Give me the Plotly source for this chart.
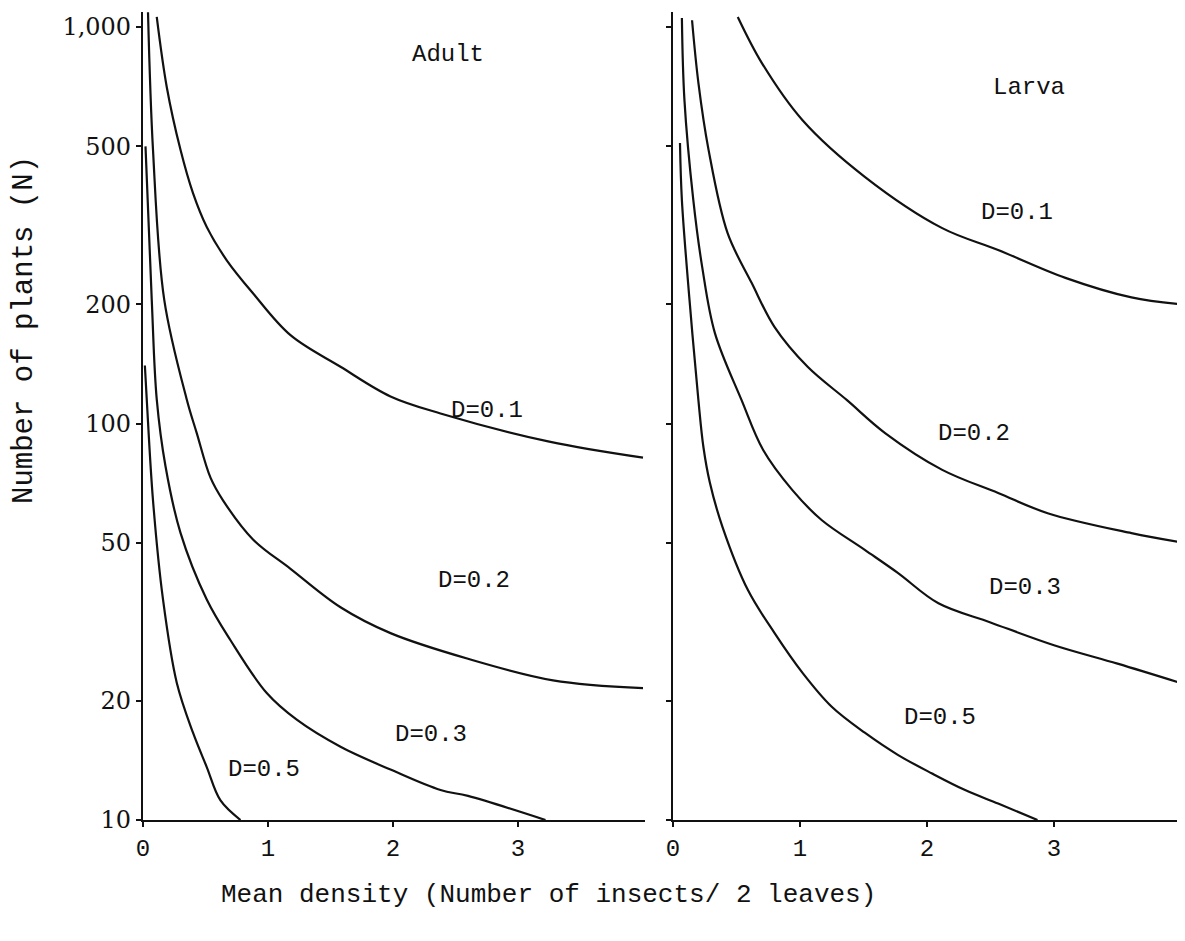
import numpy as np
import plotly.graph_objects as go

# ---- data ----
# Adult panel
adult_d01_x = [0.11, 0.19, 0.30, 0.40, 0.51, 0.67, 0.88, 1.18, 1.58, 1.98, 2.38, 3.25, 4.0]
adult_d01_n = [1060, 706, 490, 381, 313, 258, 213, 167, 139, 117, 106, 90, 82]

adult_d02_x = [0.04, 0.08, 0.17, 0.35, 0.43, 0.54, 0.64, 0.88, 1.18, 1.58, 1.98, 2.6, 3.28, 4.0]
adult_d02_n = [1090, 490, 205, 115, 94.6, 73, 64, 51, 43, 34.4, 29.6, 25.5, 22.5, 21.5]

adult_d03_x = [0.02, 0.07, 0.11, 0.18, 0.30, 0.51, 0.70, 0.99, 1.23, 1.58, 1.98, 2.38, 2.6, 3.22]
adult_d03_n = [500, 205, 115, 78, 53, 36, 28.4, 20.9, 17.9, 15.3, 13.4, 11.9, 11.5, 10]

adult_d05_x = [0.015, 0.03, 0.08, 0.16, 0.27, 0.40, 0.51, 0.62, 0.78]
adult_d05_n = [140, 115, 64, 36, 22.2, 16.6, 13.6, 11.2, 10]

# Larva panel
larva_d01_x = [0.51, 0.70, 1.02, 1.51, 2.12, 2.56, 3.09, 3.61, 3.99]
larva_d01_n = [1060, 811, 582, 419, 311, 274, 233, 208, 200]

larva_d02_x = [0.15, 0.20, 0.28, 0.43, 0.62, 0.80, 1.06, 1.37, 1.67, 2.12, 2.56, 2.95, 3.61, 3.99]
larva_d02_n = [1040, 723, 490, 302, 226, 175, 139, 114.5, 94.6, 76.4, 66.8, 59.4, 52.9, 50.2]

larva_d03_x = [0.07, 0.09, 0.16, 0.23, 0.33, 0.54, 0.71, 0.94, 1.17, 1.51, 1.77, 2.09, 2.5, 3.0, 3.5, 3.99]
larva_d03_n = [1054, 655, 366, 248, 169, 114.5, 85.7, 67.9, 57.1, 48, 42, 35.2, 31.5, 27.6, 24.8, 22.2]

larva_d05_x = [0.055, 0.07, 0.13, 0.20, 0.24, 0.29, 0.39, 0.59, 0.80, 1.02, 1.25, 1.51, 1.77, 2.04, 2.30, 2.56, 2.87]
larva_d05_n = [510, 366, 205, 114.5, 87, 71, 54.8, 38, 29.6, 23.5, 19.3, 16.6, 14.6, 13.1, 11.9, 11.0, 10]

y_tick_vals = [10, 20, 50, 100, 200, 500, 1000]
y_tick_text = ["10", "20", "50", "100", "200", "500", "1,000"]
x_tick_vals = [0, 1, 2, 3]
x_tick_text = ["0", "1", "2", "3"]

# ---- figure ----
OFF = 8                      # page body margin of the html page
W, H = 1185 - 2 * OFF, 941 - 2 * OFF


def fx(px):
    return (px - OFF) / W


def fy(py):
    return 1 - (py - OFF) / H


fig = go.Figure()

line_style = dict(color="#111111", width=2.2, shape="spline", smoothing=1.0)

for xs, ns in [(adult_d01_x, adult_d01_n), (adult_d02_x, adult_d02_n),
               (adult_d03_x, adult_d03_n), (adult_d05_x, adult_d05_n)]:
    fig.add_trace(go.Scatter(x=xs, y=ns, mode="lines", line=line_style,
                             xaxis="x", yaxis="y", showlegend=False, hoverinfo="skip"))

for xs, ns in [(larva_d01_x, larva_d01_n), (larva_d02_x, larva_d02_n),
               (larva_d03_x, larva_d03_n), (larva_d05_x, larva_d05_n)]:
    fig.add_trace(go.Scatter(x=xs, y=ns, mode="lines", line=line_style,
                             xaxis="x2", yaxis="y2", showlegend=False, hoverinfo="skip"))

ytop_px, ybot_px = 12, 820
y_dom = [fy(ybot_px), fy(ytop_px)]
y_range = [1, 1 + (ybot_px - ytop_px) / 396.5]

tick_font_x = dict(family="Liberation Mono", size=24, color="#111111")
tick_font_y = dict(family="DejaVu Serif", size=24, color="#111111")

common_x = dict(showline=True, linecolor="#111111", linewidth=2.2, ticks="outside",
                ticklen=5, tickwidth=1.5, tickcolor="#111111", showgrid=False,
                zeroline=False, tickvals=x_tick_vals, ticktext=x_tick_text,
                tickfont=tick_font_x, mirror=False, automargin=False)
common_y = dict(type="log", range=y_range, domain=y_dom, showline=True,
                linecolor="#111111", linewidth=2.2, ticks="outside", ticklen=5,
                tickwidth=1.5, tickcolor="#111111", showgrid=False, zeroline=False,
                tickvals=y_tick_vals, tickfont=tick_font_y, automargin=False)

right_end = min(1180, OFF + W)
fig.update_layout(
    width=W, height=H,
    margin=dict(l=0, r=0, t=0, b=0),
    paper_bgcolor="white", plot_bgcolor="white",
    xaxis=dict(domain=[fx(143), fx(645)], range=[0, (645 - 143) / 125], anchor="y", **common_x),
    yaxis=dict(anchor="x", ticktext=y_tick_text, showticklabels=True, **common_y),
    xaxis2=dict(domain=[fx(673), fx(right_end)], range=[0, (right_end - 673) / 127],
                anchor="y2", **common_x),
    yaxis2=dict(anchor="x2", ticktext=y_tick_text, showticklabels=False, **common_y),
)

lab_font = dict(family="Liberation Mono", size=24, color="#111111")
labels = [
    ("x", "y", 2.44, 850, "Adult"),
    ("x", "y", 2.75, 108, "D=0.1"),
    ("x", "y", 2.65, 40.3, "D=0.2"),
    ("x", "y", 2.30, 16.4, "D=0.3"),
    ("x", "y", 0.97, 13.4, "D=0.5"),
    ("x2", "y2", 2.80, 702, "Larva"),
    ("x2", "y2", 2.71, 340, "D=0.1"),
    ("x2", "y2", 2.37, 94.6, "D=0.2"),
    ("x2", "y2", 2.77, 38.5, "D=0.3"),
    ("x2", "y2", 2.10, 18.1, "D=0.5"),
]
for xr, yr, xv, nv, txt in labels:
    fig.add_annotation(x=xv, y=np.log10(nv), xref=xr, yref=yr, text=txt,
                       showarrow=False, font=lab_font, xanchor="center", yanchor="middle")

fig.add_annotation(x=fx(548), y=fy(895), xref="paper", yref="paper",
                   text="Mean density (Number of insects/ 2 leaves)", showarrow=False,
                   font=dict(family="Liberation Mono", size=26, color="#111111"),
                   xanchor="center", yanchor="middle")
fig.add_annotation(x=fx(24), y=fy(330), xref="paper", yref="paper",
                   text="Number of plants (N)", showarrow=False, textangle=-90,
                   font=dict(family="Liberation Mono", size=29, color="#111111"),
                   xanchor="center", yanchor="middle")

fig.write_html("out.html")
